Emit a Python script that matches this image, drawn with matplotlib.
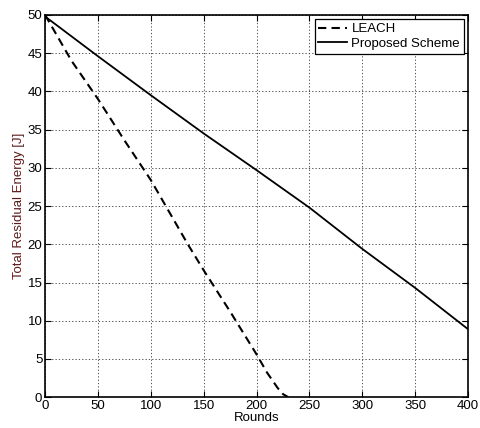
import matplotlib
matplotlib.use("Agg")
import matplotlib.pyplot as plt

plt.rcParams['font.family'] = ['Liberation Sans', 'DejaVu Sans']

# LEACH residual energy vs rounds
leach_rounds = [0, 10, 25, 50, 75, 100, 125, 135, 150, 175, 200, 210, 220, 225, 230]
leach_energy = [50, 47.6, 44.0, 39.0, 33.6, 28.4, 22.4, 20.0, 16.6, 11.2, 5.6, 3.2, 1.2, 0.4, 0]

# Proposed scheme residual energy vs rounds
prop_rounds = [0, 50, 100, 150, 200, 250, 300, 350, 400]
prop_energy = [49.8, 44.6, 39.5, 34.5, 29.7, 24.8, 19.4, 14.3, 8.9]

X_TICKS = list(range(0, 401, 50))
Y_TICKS = list(range(0, 51, 5))


def main() -> None:
    fig = plt.figure(figsize=(4.8, 4.28), dpi=100)
    ax = fig.add_axes([0.094, 0.072, 0.881, 0.893])

    ax.plot(leach_rounds, leach_energy, color='black', linestyle='--', linewidth=1.5,
            dashes=(4, 2.5), label='LEACH')
    ax.plot(prop_rounds, prop_energy, color='black', linestyle='-', linewidth=1.3,
            label='Proposed Scheme')

    ax.set_xlim(0, 400)
    ax.set_ylim(0, 50)
    ax.set_xticks(X_TICKS)
    ax.set_yticks(Y_TICKS)
    ax.tick_params(direction='in', top=True, right=True, labelsize=9.5, length=4, pad=2)
    ax.grid(True, color='#333333', linestyle=(0, (1.5, 2.5)), linewidth=0.6)
    for spine in ax.spines.values():
        spine.set_linewidth(1.2)

    ax.set_xlabel('Rounds', fontsize=9.5, labelpad=0)
    ax.set_ylabel('Total Residual Energy [J]', fontsize=9.5, color='#5a1c1c', labelpad=2)

    leg = ax.legend(loc='upper right', fontsize=9.5, fancybox=False, framealpha=1,
                    edgecolor='black', borderaxespad=0.3, handlelength=2.2,
                    handletextpad=0.3, borderpad=0.3, labelspacing=0.2)
    leg.get_frame().set_linewidth(0.9)

    fig.savefig('out.png', dpi=100)


if __name__ == "__main__":
    main()
